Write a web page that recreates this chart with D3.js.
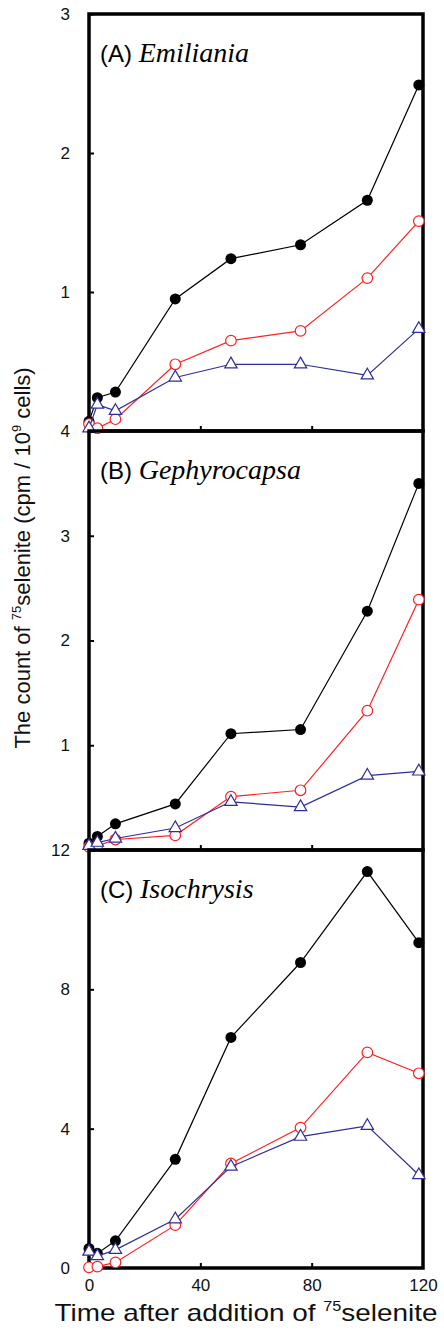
<!DOCTYPE html>
<html>
<head>
<meta charset="utf-8">
<script src="https://cdn.jsdelivr.net/npm/d3@7"></script>
<style>
  body { margin: 0; background: #fff; }
  svg { display: block; }
</style>
</head>
<body>
<svg id="chart"></svg>
<script>
// sampling times (h after addition of 75selenite)
const times = [0, 3, 9.5, 31, 51, 76, 100, 118.5];

// (A) Emiliania
const emilianiaBlack = [0.07, 0.24, 0.28, 0.95, 1.24, 1.34, 1.66, 2.49];
const emilianiaRed = [0.05, 0.02, 0.085, 0.48, 0.65, 0.72, 1.10, 1.51];
const emilianiaBlue = [0.02, 0.19, 0.145, 0.385, 0.48, 0.48, 0.40, 0.735];

// (B) Gephyrocapsa
const gephyroBlack = [0.065, 0.13, 0.25, 0.44, 1.11, 1.15, 2.28, 3.50];
const gephyroRed = [0.03, 0.04, 0.10, 0.14, 0.51, 0.57, 1.33, 2.39];
const gephyroBlue = [0.04, 0.07, 0.11, 0.21, 0.46, 0.41, 0.71, 0.75];

// (C) Isochrysis
const isochrysisBlack = [0.56, 0.42, 0.78, 3.12, 6.62, 8.77, 11.38, 9.34];
const isochrysisRed = [0.02, 0.04, 0.16, 1.23, 3.0, 4.03, 6.19, 5.59];
const isochrysisBlue = [0.47, 0.34, 0.52, 1.40, 2.91, 3.77, 4.08, 2.67];

const xTicks = [0, 40, 80, 120];
const panels = [
    { tag: "(A)", name: "Emiliania", max: 3, ticks: [1, 2, 3], black: emilianiaBlack, red: emilianiaRed, blue: emilianiaBlue },
    { tag: "(B)", name: "Gephyrocapsa", max: 4, ticks: [1, 2, 3, 4], black: gephyroBlack, red: gephyroRed, blue: gephyroBlue },
    { tag: "(C)", name: "Isochrysis", max: 12, ticks: [0, 4, 8, 12], black: isochrysisBlack, red: isochrysisRed, blue: isochrysisBlue }
];

const width = 444, height = 1331;
const left = 89, right = 423;
const bounds = [14, 431, 850, 1268];

const svg = d3.select("#chart")
    .attr("width", width)
    .attr("height", height);

const x = d3.scaleLinear().domain([0, 120]).range([left, right]);

const blueCol = "#2e2e99";
const redCol = "#ff2020";
const tri = d3.symbol().type(d3.symbolTriangle).size(66);

panels.forEach((p, i) => {
    const top = bounds[i], bottom = bounds[i + 1];
    const y = d3.scaleLinear().domain([0, p.max]).range([bottom, top]);
    const g = svg.append("g");

    // frame
    g.append("rect")
        .attr("x", left).attr("y", top)
        .attr("width", right - left).attr("height", bottom - top)
        .attr("fill", "none")
        .attr("stroke", "#000")
        .attr("stroke-width", 3.5);

    // y axis (inward ticks)
    const yAxis = g.append("g")
        .attr("transform", `translate(${left},0)`)
        .call(d3.axisLeft(y).tickValues(p.ticks).tickFormat(d3.format("d")).tickSize(-5).tickPadding(19));
    yAxis.select(".domain").remove();
    yAxis.selectAll("line").attr("stroke-width", 2);
    yAxis.selectAll("text")
        .attr("font-family", "Liberation Sans, Arial, sans-serif")
        .attr("font-size", 17)
        .attr("fill", "#111");

    // x ticks at the bottom of each panel
    const xAxis = g.append("g")
        .attr("transform", `translate(0,${bottom})`)
        .call(d3.axisBottom(x).tickValues([40, 80]).tickSize(-5).tickFormat(""));
    xAxis.select(".domain").remove();
    xAxis.selectAll("line").attr("stroke-width", 2);

    // panel title
    const title = g.append("text")
        .attr("x", 100)
        .attr("y", top + 48);
    title.append("tspan")
        .attr("font-family", "Liberation Sans, Arial, sans-serif")
        .attr("font-size", 24)
        .text(p.tag + " ");
    title.append("tspan")
        .attr("font-family", "Liberation Serif, Times New Roman, serif")
        .attr("font-style", "italic")
        .attr("font-size", 28)
        .text(p.name);

    const line = d3.line()
        .x((d, j) => x(times[j]))
        .y(d => y(d));

    // black filled circles
    g.append("path")
        .attr("d", line(p.black))
        .attr("fill", "none")
        .attr("stroke", "#000")
        .attr("stroke-width", 1.2);
    g.selectAll(".blk")
        .data(p.black)
        .join("circle")
        .attr("class", "blk")
        .attr("cx", (d, j) => x(times[j]))
        .attr("cy", d => y(d))
        .attr("r", 5.5)
        .attr("fill", "#000");

    // red open circles
    g.append("path")
        .attr("d", line(p.red))
        .attr("fill", "none")
        .attr("stroke", redCol)
        .attr("stroke-width", 1.2);
    g.selectAll(".red")
        .data(p.red)
        .join("circle")
        .attr("class", "red")
        .attr("cx", (d, j) => x(times[j]))
        .attr("cy", d => y(d))
        .attr("r", 5.3)
        .attr("fill", "#fff")
        .attr("stroke", redCol)
        .attr("stroke-width", 1.2);

    // blue open triangles
    g.append("path")
        .attr("d", line(p.blue))
        .attr("fill", "none")
        .attr("stroke", blueCol)
        .attr("stroke-width", 1.2);
    g.selectAll(".blu")
        .data(p.blue)
        .join("path")
        .attr("class", "blu")
        .attr("d", tri)
        .attr("transform", (d, j) => `translate(${x(times[j])},${y(d)})`)
        .attr("fill", "#fff")
        .attr("stroke", blueCol)
        .attr("stroke-width", 1.2);
});

// x tick labels under the last panel
const xLabels = svg.append("g")
    .attr("transform", `translate(0,${bounds[3]})`)
    .call(d3.axisBottom(x).tickValues(xTicks).tickSize(0).tickPadding(11));
xLabels.select(".domain").remove();
xLabels.selectAll("text")
    .attr("font-family", "Liberation Sans, Arial, sans-serif")
    .attr("font-size", 17)
    .attr("fill", "#111");

// axis titles
const xt = svg.append("text")
    .attr("x", 246)
    .attr("y", 1321)
    .attr("text-anchor", "middle")
    .attr("font-family", "Liberation Sans, Arial, sans-serif")
    .attr("font-size", 24)
    .attr("textLength", 383)
    .attr("lengthAdjust", "spacingAndGlyphs")
    .attr("fill", "#111");
xt.append("tspan").text("Time after addition of ");
xt.append("tspan").attr("font-size", 14).attr("dy", -10).text("75");
xt.append("tspan").attr("dy", 10).text("selenite");

const yt = svg.append("text")
    .attr("transform", "translate(30,558) rotate(-90)")
    .attr("text-anchor", "middle")
    .attr("font-family", "Liberation Sans, Arial, sans-serif")
    .attr("font-size", 22)
    .attr("fill", "#111");
yt.append("tspan").text("The count of ");
yt.append("tspan").attr("font-size", 13).attr("dy", -9).text("75");
yt.append("tspan").attr("dy", 9).text("selenite (cpm / 10");
yt.append("tspan").attr("font-size", 13).attr("dy", -9).text("9");
yt.append("tspan").attr("dy", 9).text("  cells)");
</script>
</body>
</html>
